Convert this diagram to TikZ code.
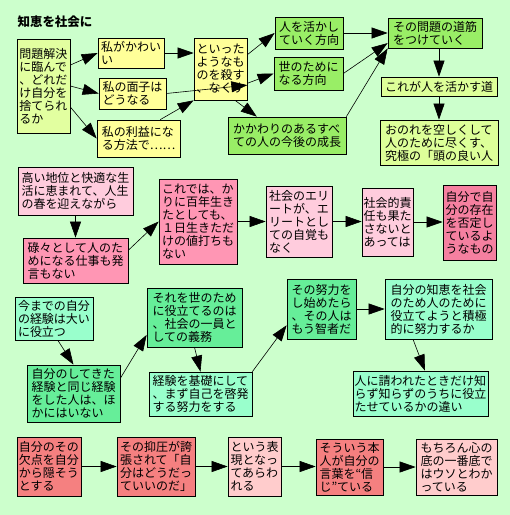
\documentclass[tikz,border=0pt]{standalone}
\usepackage{fontspec}
\setmainfont{Noto Sans CJK JP}
\usepackage{tikz}
\usetikzlibrary{arrows.meta,positioning}
\definecolor{bgcolor}{RGB}{204,255,204}
\definecolor{yellowcolor}{RGB}{255,255,153}
\definecolor{lemoncolor}{RGB}{226,255,160}
\definecolor{leafcolor}{RGB}{153,238,102}
\definecolor{limecolor}{RGB}{221,255,153}
\definecolor{pinkcolor}{RGB}{255,204,221}
\definecolor{rosecolor}{RGB}{255,150,180}
\definecolor{deeppinkcolor}{RGB}{245,128,160}
\definecolor{aquacolor}{RGB}{153,255,204}
\definecolor{mintcolor}{RGB}{102,238,153}
\definecolor{salmoncolor}{RGB}{245,128,128}
\definecolor{palecolor}{RGB}{255,204,204}

\begin{document}
\begin{tikzpicture}[
    x=1pt, y=-1pt,
    card/.style={rectangle, draw=black, line width=0.7pt, align=left, inner sep=1pt, font=\fontsize{12}{13}\selectfont},
    link/.style={-{Triangle[length=16pt,width=11pt]}, line width=0.6pt, black}
]

% Background
\fill[bgcolor] (0,0) rectangle (510,515);
\useasboundingbox (0,0) rectangle (510,515);
\node[font=\bfseries\fontsize{12.5}{13}\selectfont] (title) at (55,22) {知恵を社会に};

% Row 1
\node[card, fill=lemoncolor, minimum width=53pt, minimum height=94pt] (problem) at (43.5,86) {問題解決\\に臨んで\\、どれだ\\け自分を\\捨てられ\\るか};
\node[card, fill=yellowcolor, minimum width=66pt, minimum height=30pt] (cute) at (131,53) {私がかわい\\い};
\node[card, fill=yellowcolor, minimum width=67pt, minimum height=31pt] (face) at (132.5,93.5) {私の面子は\\どうなる};
\node[card, fill=yellowcolor, minimum width=83pt, minimum height=37pt] (profit) at (138.5,138.5) {私の利益にな\\る方法で……};
\node[card, fill=yellowcolor, minimum width=53pt, minimum height=62pt] (kill) at (220.5,69) {といった\\ようなも\\のを殺す\\、なくす};
\node[card, fill=leafcolor, minimum width=68pt, minimum height=32pt] (livedir) at (309,33) {人を活かし\\ていく方向};
\node[card, fill=leafcolor, minimum width=69pt, minimum height=33pt] (worlddir) at (308.5,73.5) {世のために\\なる方向};
\node[card, fill=leafcolor, minimum width=118pt, minimum height=37pt] (growth) at (287,135.5) {かかわりのあるすべ\\ての人の今後の成長};
\node[card, fill=leafcolor, minimum width=94pt, minimum height=30pt] (route) at (435,33) {その問題の道筋\\をつけていく};
\node[card, fill=limecolor, minimum width=116pt, minimum height=19pt] (livingway) at (439,86.5) {これが人を活かす道};
\node[card, fill=limecolor, minimum width=118pt, minimum height=45pt] (ultimate) at (439,142.5) {おのれを空しくして\\人のために尽くす、\\究極の「頭の良い人};

% Row 2
\node[card, fill=pinkcolor, minimum width=115pt, minimum height=48pt] (status) at (75.5,191) {高い地位と快適な生\\活に恵まれて、人生\\の春を迎えながら};
\node[card, fill=rosecolor, minimum width=105pt, minimum height=45pt] (idle) at (75.5,260.5) {碌々として人のた\\めになる仕事も発\\言もない};
\node[card, fill=rosecolor, minimum width=78pt, minimum height=85pt] (worthless) at (198,221.5) {これでは、か\\りに百年生き\\たとしても、\\１日生きただ\\けの値打ちも\\ない};
\node[card, fill=pinkcolor, minimum width=66pt, minimum height=71pt] (elite) at (299,221.5) {社会のエリ\\ートが、エ\\リートとし\\ての自覚も\\なく};
\node[card, fill=pinkcolor, minimum width=51pt, minimum height=68pt] (duty) at (387.5,222) {社会的責\\任も果た\\さないと\\あっては};
\node[card, fill=deeppinkcolor, minimum width=53pt, minimum height=75pt] (denial) at (469.5,222.5) {自分で自\\分の存在\\を否定し\\ているよ\\うなもの};

% Row 3
\node[card, fill=aquacolor, minimum width=78pt, minimum height=43pt] (past) at (54,318.5) {今までの自分\\の経験は大い\\に役立つ};
\node[card, fill=mintcolor, minimum width=93pt, minimum height=57pt] (unique) at (73.5,393.5) {自分のしてきた\\経験と同じ経験\\をした人は、ほ\\かにはいない};
\node[card, fill=mintcolor, minimum width=95pt, minimum height=59pt] (member) at (194.5,317.5) {それを世のため\\に役立てるのは\\、社会の一員と\\しての義務};
\node[card, fill=aquacolor, minimum width=103pt, minimum height=44pt] (develop) at (200.5,394) {経験を基礎にして\\、まず自己を啓発\\する努力をする};
\node[card, fill=mintcolor, minimum width=69pt, minimum height=60pt] (effort) at (321.5,309) {その努力を\\し始めたら\\、その人は\\もう智者だ};
\node[card, fill=aquacolor, minimum width=107pt, minimum height=60pt] (wisdom) at (438.5,309) {自分の知恵を社会\\のため人のために\\役立てようと積極\\的に努力するか};
\node[card, fill=aquacolor, minimum width=135pt, minimum height=45pt] (asked) at (420.5,393.5) {人に請われたときだけ知\\らず知らずのうちに役立\\たせているかの違い};

% Row 4
\node[card, fill=salmoncolor, minimum width=64pt, minimum height=59pt] (hide) at (49,466.5) {自分のその\\欠点を自分\\から隠そう\\とする};
\node[card, fill=salmoncolor, minimum width=78pt, minimum height=59pt] (pressure) at (156,466.5) {その抑圧が誇\\張されて「自\\分はどうだっ\\ていいのだ」};
\node[card, fill=palecolor, minimum width=53pt, minimum height=59pt] (express) at (254.5,466.5) {という表\\現となっ\\てあらわ\\れる};
\node[card, fill=salmoncolor, minimum width=67pt, minimum height=56pt] (believe) at (349.5,467) {そういう本\\人が自分の\\言葉を“信\\じ”ている};
\node[card, fill=palecolor, minimum width=81pt, minimum height=56pt] (lie) at (456.5,467) {もちろん心の\\底の一番底で\\はウソとわか\\っている};

% Links row 1
\draw[link] (problem.38) -- (cute.west);
\draw[link] (problem.east) -- (face.west);
\draw[link] (problem.-38) -- (profit.west);
\draw[link] (cute.east) -- (cute.east -| kill.west);
\draw[link] (face.east) -- (kill.-31);
\draw[link] (profit.41) -- (kill.south west);
\draw[link] (kill.28) -- (livedir.west);
\draw[link] (kill.-28) -- (worlddir.west);
\draw[link] (kill.-65) -- (growth.148);
\draw[link] (livedir.east) -- (route.west);
\draw[link] (worlddir.east) -- (route.192);
\draw[link] (growth.north east) -- (route.south west);
\draw[link] (livingway.north |- route.south) -- (livingway.north);
\draw[link] (livingway.south) -- (ultimate.north);

% Links row 2
\draw[link] (status.south) -- (idle.north);
\draw[link] (idle.11) -- (worthless.west);
\draw[link] (worthless.east) -- (elite.west);
\draw[link] (elite.east) -- (elite.east -| duty.west);
\draw[link] (duty.east) -- (duty.east -| denial.west);

% Links row 3
\draw[link] (past.-80) -- (unique.north);
\draw[link] (unique.18) -- (member.200);
\draw[link] (member.south) -- (develop.north);
\draw[link] (develop.north east) -- (effort.205);
\draw[link] (effort.east) -- (wisdom.west);
\draw[link] (wisdom.230) -- (asked.79);

% Links row 4
\draw[link] (hide.east) -- (pressure.west);
\draw[link] (pressure.east) -- (express.west);
\draw[link] (express.east) -- (express.east -| believe.west);
\draw[link] (believe.east) -- (lie.west);

\end{tikzpicture}
\end{document}
